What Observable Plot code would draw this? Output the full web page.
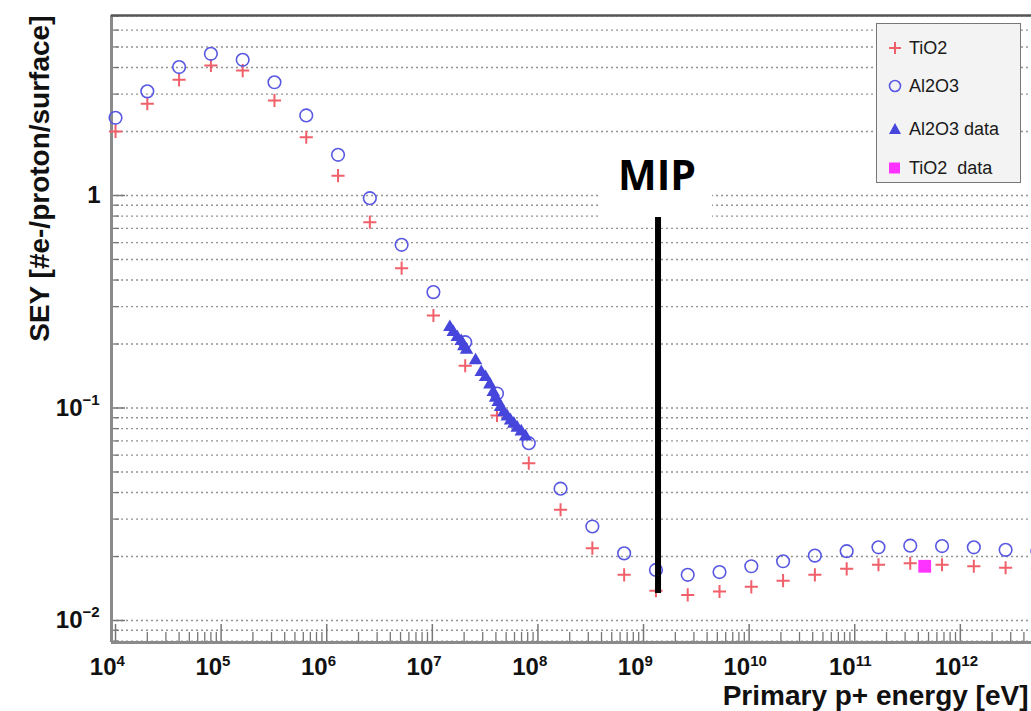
<!DOCTYPE html>
<html><head><meta charset="utf-8">
<script src="https://cdn.jsdelivr.net/npm/d3@7"></script>
<script src="https://cdn.jsdelivr.net/npm/@observablehq/plot@0.6"></script>
<style>
html,body{margin:0;padding:0;background:#fff;overflow:hidden;}
#wrap{position:relative;width:1031px;height:711px;overflow:hidden;}
#legend{position:absolute;left:876px;top:23px;width:145px;height:160px;background:#f3f3f3;border:1.5px solid #777;font-family:"Liberation Sans",Arial,sans-serif;font-size:18px;color:#1a1a1a;box-sizing:border-box;}
.row{position:absolute;left:10px;height:24px;display:flex;align-items:center;white-space:pre;}
.row svg{margin-right:6px;}
</style></head><body><div id="wrap"><div id="legend"></div></div>
<script>
// Primary proton energies (eV)
const energy = [1e4, 2e4, 4e4, 8e4, 1.6e5, 3.2e5, 6.4e5, 1.28e6, 2.56e6, 5.12e6,
  1.024e7, 2.048e7, 4.096e7, 8.192e7, 1.638e8, 3.277e8, 6.554e8, 1.311e9, 2.621e9, 5.243e9,
  1.049e10, 2.097e10, 4.194e10, 8.389e10, 1.678e11, 3.355e11, 6.711e11, 1.342e12, 2.684e12, 5.369e12];
// SEY simulation series
const seyAl2O3 = [2.32, 3.09, 4.02, 4.64, 4.35, 3.41, 2.38, 1.554, 0.971, 0.586,
  0.351, 0.204, 0.117, 0.0683, 0.0417, 0.0277, 0.0207, 0.0173, 0.0164, 0.0169,
  0.0180, 0.0190, 0.0202, 0.0212, 0.0221, 0.0225, 0.0224, 0.0221, 0.0215, 0.0212];
const seyTiO2 = [2.00, 2.70, 3.50, 4.09, 3.87, 2.80, 1.88, 1.24, 0.749, 0.455,
  0.2725, 0.158, 0.0922, 0.0550, 0.0332, 0.0219, 0.0164, 0.0138, 0.0132, 0.0137,
  0.0144, 0.0154, 0.0164, 0.0175, 0.0183, 0.0186, 0.0183, 0.0180, 0.0177, 0.0176];
// Measured data
const al2o3DataEnergy = [1.465e7, 1.578e7, 1.721e7, 1.878e7, 1.987e7, 2.108e7, 2.566e7, 2.905e7, 3.19e7, 3.504e7,
  3.773e7, 3.967e7, 4.207e7, 4.424e7, 4.754e7, 5.122e7, 5.503e7, 5.913e7, 6.368e7, 6.95e7, 7.63e7];
const al2o3DataSey = [0.240, 0.2274, 0.2154, 0.2063, 0.1948, 0.1879, 0.1674, 0.1474, 0.1396, 0.129,
  0.1187, 0.1117, 0.1065, 0.1009, 0.0955, 0.0912, 0.0873, 0.0842, 0.0807, 0.0775, 0.0734];
const tio2DataEnergy = [4.6e11];
const tio2DataSey = [0.0180];
// Axes
const xDomain = [9160, 4.72e12];
const yDomain = [0.00788, 7.03];
const xTickExponents = [4, 5, 6, 7, 8, 9, 10, 11, 12];
const yTickValues = [1, 0.1, 0.01];
const yTickBases = ["1", "10", "10"];
const yTickExponents = ["", "\u22121", "\u22122"];
const xTitle = "Primary p+ energy [eV]";
const yTitle = "SEY [#e-/proton/surface]";
// Annotation
const mipLabel = "MIP";
const mipEnergy = [1.372e9];
const mipSeyRange = [0.01339, 0.788];
const mipBoxEnergy = [3.75e8, 4.5e9];
const mipBoxSey = [0.788, 1.63];
const mipTextSey = [1.067];
// Legend
const legendLabels = ["TiO2", "Al2O3", "Al2O3 data", "TiO2  data"];
const legendSymbols = ["plus", "circle", "triangle", "square"];
const colors = {tio2: "#f0606a", al2o3: "#5858e2", al2o3Data: "#4646dc", tio2Data: "#ff33ff"};
const legendColors = [colors.tio2, colors.al2o3, colors.al2o3Data, colors.tio2Data];

// tick sets
const minorOf = (lo, hi, dom) => {
  const out = [];
  for (let k = lo; k <= hi; k++) for (let m = 1; m <= 9; m++) {
    const v = m * Math.pow(10, k);
    if (v >= dom[0] && v <= dom[1]) out.push(v);
  }
  return out;
};
const xMajor = xTickExponents.map(k => Math.pow(10, k));
const xAll = minorOf(3, 12, xDomain);
const xMinor = xAll.filter(v => !xMajor.some(m => Math.abs(m - v) / m < 1e-9));
const yAll = minorOf(-3, 0, yDomain);
const yMinor = yAll.filter(v => !yTickValues.some(m => Math.abs(m - v) / m < 1e-9));

const simT = energy.map((e, i) => ({e, v: seyTiO2[i]}));
const simA = energy.map((e, i) => ({e, v: seyAl2O3[i]}));
const datA = al2o3DataEnergy.map((e, i) => ({e, v: al2o3DataSey[i]}));
const datT = tio2DataEnergy.map((e, i) => ({e, v: tio2DataSey[i]}));
const yTicks = yTickValues.map((v, i) => ({v, base: yTickBases[i], exp: yTickExponents[i]}));

const boldFont = "Liberation Sans, Arial, sans-serif";
const frameW = 1031 - 111, frameH = 642 - 15;

const plot = Plot.plot({
  width: 1031,
  height: 711,
  marginLeft: 111,
  marginRight: 0,
  marginTop: 15,
  marginBottom: 69,
  style: {background: "#fff", overflow: "hidden", fontFamily: boldFont},
  x: {type: "log", domain: xDomain, axis: null},
  y: {type: "log", domain: yDomain, axis: null},
  marks: [
    // grid
    Plot.ruleY(yAll, {y: d => d, stroke: "#808080", strokeWidth: 1.4, strokeDasharray: "2,3", strokeOpacity: 0.85}),
    // ticks
    Plot.ruleX(xMajor, {x: d => d, insetTop: frameH - 18, stroke: "#777", strokeWidth: 1.5}),
    Plot.ruleX(xMinor, {x: d => d, insetTop: frameH - 10, stroke: "#777", strokeWidth: 1.3}),
    Plot.ruleY(yTickValues, {y: d => d, insetRight: frameW - 14, stroke: "#777", strokeWidth: 1.5}),
    Plot.ruleY(yMinor, {y: d => d, insetRight: frameW - 8, stroke: "#777", strokeWidth: 1.3}),
    // frame
    Plot.ruleX([xDomain[0]], {stroke: "#8a8a8a", strokeWidth: 3}),
    Plot.ruleY([yDomain[0]], {stroke: "#8a8a8a", strokeWidth: 3}),
    Plot.ruleY([yDomain[1]], {stroke: "#555", strokeWidth: 2.5}),
    // series
    Plot.dot(simT, {x: "e", y: "v", symbol: "plus", r: 4.3, stroke: colors.tio2, strokeWidth: 2}),
    Plot.dot(simA, {x: "e", y: "v", symbol: "circle", r: 6.3, stroke: colors.al2o3, strokeWidth: 1.6, fill: "none"}),
    Plot.dot(datA, {x: "e", y: "v", symbol: "triangle", r: 5, fill: colors.al2o3Data, stroke: "none"}),
    Plot.dot(datT, {x: "e", y: "v", symbol: "square", r: 7.2, fill: colors.tio2Data, stroke: "none"}),
    // MIP annotation
    Plot.rect([0], {x1: mipBoxEnergy[0], x2: mipBoxEnergy[1], y1: mipBoxSey[0], y2: mipBoxSey[1], fill: "#fff"}),
    Plot.ruleX(mipEnergy, {x: d => d, y1: mipSeyRange[0], y2: mipSeyRange[1], stroke: "#000", strokeWidth: 6}),
    Plot.text([mipLabel], {x: mipEnergy[0] * 0.98, y: mipTextSey[0], text: d => d, fontFamily: "Open Sans, sans-serif", fontWeight: 700, fontSize: 41, fill: "#000", lineAnchor: "bottom"}),
    // x tick labels
    Plot.text(xMajor, {x: d => d, frameAnchor: "bottom", text: () => "10", textAnchor: "end", lineAnchor: "top", dx: 1, dy: 15, fontSize: 24, fontWeight: 700, fill: "#111"}),
    Plot.text(xTickExponents, {x: k => Math.pow(10, k), frameAnchor: "bottom", text: k => String(k), textAnchor: "start", lineAnchor: "top", dx: 1, dy: 13, fontSize: 15, fontWeight: 700, fill: "#111"}),
    // y tick labels
    Plot.text(yTicks.filter(d => d.exp === ""), {y: "v", frameAnchor: "left", text: "base", textAnchor: "end", dx: -11, fontSize: 24, fontWeight: 700, fill: "#111"}),
    Plot.text(yTicks.filter(d => d.exp !== ""), {y: "v", frameAnchor: "left", text: "base", textAnchor: "end", dx: -29, fontSize: 24, fontWeight: 700, fill: "#111"}),
    Plot.text(yTicks.filter(d => d.exp !== ""), {y: "v", frameAnchor: "left", text: "exp", textAnchor: "start", dx: -29, dy: -8, fontSize: 15, fontWeight: 700, fill: "#111"}),
    // axis titles
    Plot.text([yTitle], {frameAnchor: "top-left", text: d => d, rotate: -90, textAnchor: "end", lineAnchor: "middle", dx: -71, dy: 0, fontSize: 28, fontWeight: 700, fill: "#111"}),
    Plot.text([xTitle], {frameAnchor: "bottom-right", text: d => d, textAnchor: "end", lineAnchor: "bottom", dx: -3, dy: 62, fontSize: 28, fontWeight: 700, fill: "#111"})
  ]
});
document.getElementById("wrap").prepend(plot);

// legend
const legend = document.getElementById("legend");
const rowTops = [12, 50, 93, 132];
const symSvg = (s, c) => {
  const d = {
    plus: `<path d="M2,8H14M8,2V14" stroke="${c}" stroke-width="2" fill="none"/>`,
    circle: `<circle cx="8" cy="8" r="5.5" stroke="${c}" stroke-width="1.6" fill="none"/>`,
    triangle: `<path d="M8,2L14,13H2Z" fill="${c}"/>`,
    square: `<rect x="2" y="2.5" width="11" height="11" fill="${c}"/>`
  }[s];
  return `<svg width="16" height="16" viewBox="0 0 16 16">${d}</svg>`;
};
legendLabels.forEach((lab, i) => {
  const r = document.createElement("div");
  r.className = "row";
  r.style.top = rowTops[i] + "px";
  r.innerHTML = symSvg(legendSymbols[i], legendColors[i]) + `<span>${lab}</span>`;
  legend.appendChild(r);
});
</script></body></html>
